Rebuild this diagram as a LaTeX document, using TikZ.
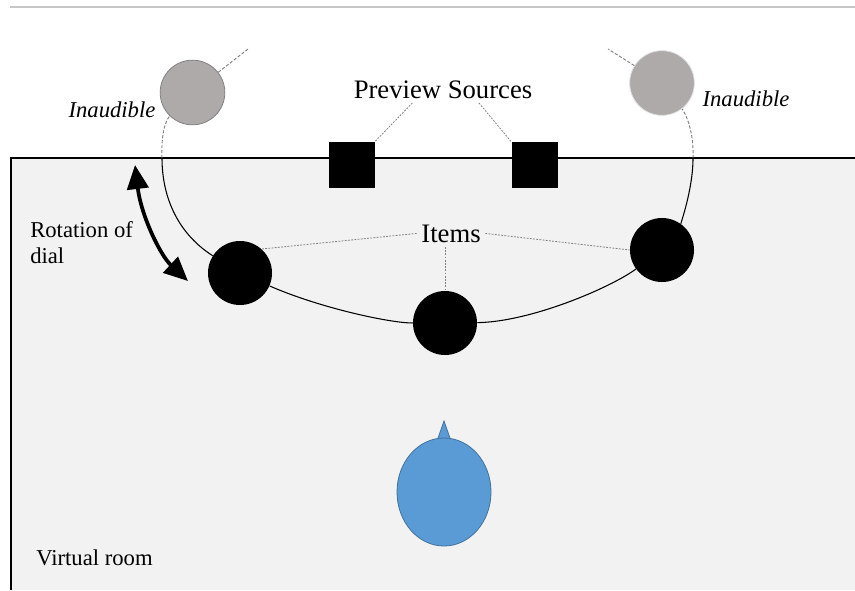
\documentclass[tikz,border=0pt]{standalone}
\usepackage{fontspec}
\setmainfont{Liberation Serif}
\usetikzlibrary{arrows.meta,shapes.geometric}
\definecolor{roomfill}{HTML}{F2F2F2}
\definecolor{mutefill}{HTML}{AEAAAA}
\definecolor{headfill}{HTML}{5B9BD5}
\definecolor{headdraw}{HTML}{41719C}
\tikzset{
	item/.style={circle,fill=black,inner sep=0pt,minimum size=48pt},
	src/.style={rectangle,fill=black,inner sep=0pt,minimum size=34.5pt},
	mute/.style={circle,fill=mutefill,inner sep=0pt,minimum size=48.5pt,line width=0.6pt},
	lbl/.style={font=\fontsize{20}{24}\selectfont},
	small/.style={font=\fontsize{17}{20}\selectfont},
	note/.style={font=\fontsize{17}{20}\selectfont\itshape},
	hint/.style={gray,line width=0.6pt,dash pattern=on 1.4pt off 1pt},
	fade/.style={gray,line width=0.7pt,dash pattern=on 2.4pt off 1.3pt},
	dial/.style={line width=0.8pt},
}

\begin{document}
\begin{tikzpicture}[x=0.75pt,y=-0.75pt]
	\useasboundingbox (0,0) rectangle (855,590);
	\draw[black!22,line width=0.8pt] (10,7) -- (855,7);
	\fill[roomfill] (11,158) rectangle (855,590);
	\draw[line width=0.9pt] (855,158) -- (11,158) -- (11,590);

	\coordinate (dl) at (162,158);
	\coordinate (dr) at (693,158);
	\coordinate (ltip) at (248,49);
	\coordinate (rtip) at (608,49);
	\coordinate (rot1) at (135,165);
	\coordinate (rot2) at (188,281);

	\node[mute,draw=black!50] (m1) at (192.5,92.5) {};
	\node[mute,draw=black!12] (m2) at (662,83) {};
	\node[src] (s1) at (352,164.5) {};
	\node[src] (s2) at (534.5,165) {};
	\node[item] (i1) at (240,273) {};
	\node[item] (i2) at (445,323) {};
	\node[item] (i3) at (662,250) {};

	\draw[fade] (dl) .. controls (161,132) and (166,120) .. (m1);
	\draw[fade] (m1) -- (ltip);
	\draw[fade] (dr) .. controls (694,132) and (686,114) .. (m2);
	\draw[fade] (m2) -- (rtip);
	\draw[dial] (dl) .. controls (162,200) and (180,235) .. (i1)
		.. controls (320,308) and (390,323) .. (i2)
		.. controls (530,322) and (610,288) .. (i3)
		.. controls (680,225) and (693,190) .. (dr);

	\node[lbl,anchor=base] (prev) at (443,98) {Preview Sources};
	\node[lbl,anchor=base] (items) at (451,242) {Items};
	\node[note,anchor=base] (inl) at (112,117) {Inaudible};
	\node[note,anchor=base] (inr) at (746,106) {Inaudible};
	\node[small,anchor=north west,align=left,inner sep=0pt] (rot) at (30,221) {Rotation of\\dial};
	\node[small,anchor=base] (room) at (94.5,565) {Virtual room};

	\draw[hint] ([xshift=-23pt]prev.south) -- (s1.north east);
	\draw[hint] ([xshift=27pt]prev.south) -- (s2.north west);
	\draw[hint] (items.west) -- (i1.48);
	\draw[hint] (items.east) -- (i3.west);
	\draw[hint] (items.south -| i2) -- (i2.north);

	\draw[line width=2.8pt,{Triangle[length=18pt,width=16pt]}-{Triangle[length=18pt,width=16pt]}]
		(rot1) .. controls (141,215) and (160,255) .. (rot2);

	\filldraw[fill=headfill,draw=headdraw,line width=0.6pt] (437,441) -- (444,421) -- (451,441) -- cycle;
	\node[ellipse,fill=headfill,draw=headdraw,line width=0.6pt,inner sep=0pt,minimum width=70.5pt,minimum height=81pt] (head) at (444,492) {};
\end{tikzpicture}
\end{document}
